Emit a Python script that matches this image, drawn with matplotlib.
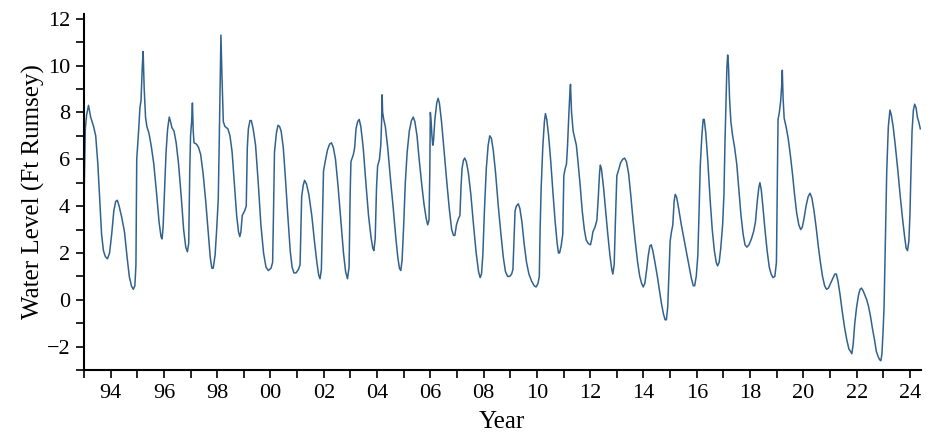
#!/usr/bin/env python3

import matplotlib
matplotlib.use('Agg')
import matplotlib.pyplot as plt
from matplotlib.ticker import MultipleLocator

# water level, one row per calendar year
years = [
    1993.00, 1993.05, 1993.10, 1993.17, 1993.25, 1993.36, 1993.44, 1993.52, 1993.59, 1993.66, 1993.73, 1993.80, 1993.88, 1993.96,
    1994.04, 1994.12, 1994.19, 1994.25, 1994.32, 1994.42, 1994.52, 1994.62, 1994.70, 1994.78, 1994.85, 1994.91, 1994.95, 1994.98,
    1995.05, 1995.10, 1995.14, 1995.19, 1995.22, 1995.26, 1995.31, 1995.36, 1995.44, 1995.52, 1995.62, 1995.72, 1995.82, 1995.89, 1995.93, 1995.97,
    1996.02, 1996.08, 1996.14, 1996.20, 1996.25, 1996.30, 1996.38, 1996.46, 1996.55, 1996.65, 1996.74, 1996.82, 1996.88, 1996.93, 1996.97,
    1997.00, 1997.04, 1997.07, 1997.10, 1997.13, 1997.22, 1997.30, 1997.38, 1997.47, 1997.57, 1997.66, 1997.74, 1997.80, 1997.85, 1997.92, 1997.98,
    1998.04, 1998.08, 1998.12, 1998.14, 1998.18, 1998.23, 1998.29, 1998.40, 1998.48, 1998.56, 1998.65, 1998.73, 1998.80, 1998.85, 1998.89, 1998.94,
    1999.03, 1999.09, 1999.13, 1999.17, 1999.23, 1999.28, 1999.35, 1999.44, 1999.54, 1999.64, 1999.74, 1999.83, 1999.92,
    2000.02, 2000.08, 2000.11, 2000.15, 2000.22, 2000.28, 2000.34, 2000.40, 2000.48, 2000.56, 2000.65, 2000.74, 2000.81, 2000.88, 2000.96,
    2001.05, 2001.11, 2001.14, 2001.17, 2001.23, 2001.28, 2001.35, 2001.44, 2001.55, 2001.65, 2001.74, 2001.81, 2001.86, 2001.91, 2001.95, 2001.99,
    2002.07, 2002.14, 2002.22, 2002.29, 2002.36, 2002.44, 2002.54, 2002.64, 2002.74, 2002.82, 2002.89, 2002.95, 2002.99,
    2003.02, 2003.11, 2003.16, 2003.21, 2003.27, 2003.33, 2003.39, 2003.48, 2003.58, 2003.68, 2003.77, 2003.84, 2003.88, 2003.93, 2003.98,
    2004.02, 2004.09, 2004.14, 2004.17, 2004.19, 2004.21, 2004.25, 2004.31, 2004.40, 2004.50, 2004.60, 2004.70, 2004.78, 2004.84, 2004.89, 2004.94,
    2005.00, 2005.06, 2005.13, 2005.21, 2005.29, 2005.36, 2005.42, 2005.50, 2005.58, 2005.67, 2005.76, 2005.84, 2005.90, 2005.95, 2005.98,
    2006.00, 2006.03, 2006.06, 2006.09, 2006.12, 2006.17, 2006.24, 2006.29, 2006.34, 2006.42, 2006.52, 2006.62, 2006.71, 2006.80, 2006.87, 2006.92, 2006.98,
    2007.05, 2007.11, 2007.15, 2007.19, 2007.24, 2007.29, 2007.35, 2007.43, 2007.52, 2007.62, 2007.72, 2007.81, 2007.87, 2007.92, 2007.97,
    2008.03, 2008.10, 2008.17, 2008.23, 2008.29, 2008.36, 2008.45, 2008.55, 2008.65, 2008.74, 2008.82, 2008.90, 2008.98,
    2009.05, 2009.10, 2009.14, 2009.18, 2009.23, 2009.30, 2009.36, 2009.44, 2009.52, 2009.61, 2009.70, 2009.80, 2009.90, 2009.97,
    2010.04, 2010.09, 2010.12, 2010.16, 2010.22, 2010.28, 2010.32, 2010.37, 2010.44, 2010.52, 2010.60, 2010.68, 2010.76, 2010.81, 2010.85, 2010.91, 2010.97,
    2011.01, 2011.06, 2011.11, 2011.15, 2011.19, 2011.24, 2011.26, 2011.30, 2011.36, 2011.42, 2011.48, 2011.55, 2011.63, 2011.70, 2011.78, 2011.85, 2011.93,
    2012.01, 2012.06, 2012.10, 2012.18, 2012.25, 2012.30, 2012.35, 2012.38, 2012.42, 2012.50, 2012.58, 2012.66, 2012.74, 2012.81, 2012.85, 2012.90, 2012.95,
    2013.00, 2013.08, 2013.14, 2013.22, 2013.29, 2013.36, 2013.44, 2013.52, 2013.60, 2013.69, 2013.78, 2013.86, 2013.93, 2013.99,
    2014.05, 2014.12, 2014.18, 2014.24, 2014.29, 2014.35, 2014.43, 2014.52, 2014.60, 2014.68, 2014.75, 2014.81, 2014.86, 2014.91, 2014.96,
    2015.00, 2015.05, 2015.10, 2015.15, 2015.19, 2015.24, 2015.32, 2015.42, 2015.52, 2015.62, 2015.72, 2015.80, 2015.87, 2015.92, 2015.98,
    2016.04, 2016.08, 2016.13, 2016.19, 2016.24, 2016.28, 2016.34, 2016.41, 2016.50, 2016.58, 2016.66, 2016.73, 2016.78, 2016.84, 2016.90, 2016.97,
    2017.02, 2017.06, 2017.10, 2017.13, 2017.16, 2017.19, 2017.23, 2017.28, 2017.34, 2017.42, 2017.50, 2017.58, 2017.66, 2017.74, 2017.81, 2017.88, 2017.96,
    2018.05, 2018.13, 2018.20, 2018.27, 2018.33, 2018.37, 2018.42, 2018.48, 2018.56, 2018.64, 2018.72, 2018.79, 2018.86, 2018.93, 2018.99,
    2019.03, 2019.05, 2019.10, 2019.15, 2019.19, 2019.21, 2019.24, 2019.28, 2019.35, 2019.43, 2019.51, 2019.59, 2019.67, 2019.75, 2019.83, 2019.90, 2019.96,
    2020.03, 2020.10, 2020.18, 2020.25, 2020.32, 2020.40, 2020.48, 2020.56, 2020.64, 2020.72, 2020.80, 2020.87, 2020.94,
    2021.02, 2021.10, 2021.18, 2021.24, 2021.30, 2021.38, 2021.46, 2021.55, 2021.63, 2021.71, 2021.77, 2021.82, 2021.87, 2021.93,
    2022.00, 2022.07, 2022.13, 2022.18, 2022.24, 2022.31, 2022.38, 2022.45, 2022.52, 2022.59, 2022.67, 2022.74, 2022.80, 2022.86, 2022.91, 2022.95, 2022.99,
    2023.03, 2023.08, 2023.13, 2023.19, 2023.25, 2023.30, 2023.37, 2023.45, 2023.54, 2023.63, 2023.72, 2023.80, 2023.86, 2023.91, 2023.96,
    2024.00, 2024.04, 2024.08, 2024.13, 2024.18, 2024.23, 2024.28, 2024.33, 2024.39,
]
level = [
    4.2, 7.3, 7.9, 8.3, 7.8, 7.4, 7.0, 5.8, 4.3, 2.8, 2.1, 1.85, 1.75, 2.0,
    2.8, 3.8, 4.2, 4.25, 4.0, 3.5, 2.9, 1.8, 1.0, 0.6, 0.45, 0.6, 1.5, 6.0,
    7.2, 8.2, 8.5, 10.0, 10.6, 9.0, 7.8, 7.4, 7.1, 6.6, 5.8, 4.6, 3.3, 2.7, 2.6, 3.1,
    4.6, 6.3, 7.3, 7.8, 7.6, 7.35, 7.2, 6.7, 5.8, 4.4, 3.0, 2.25, 2.05, 2.4, 5.5,
    7.0, 7.6, 8.4, 7.2, 6.7, 6.65, 6.5, 6.2, 5.4, 4.2, 2.9, 1.8, 1.35, 1.35, 1.9, 3.0,
    4.3, 7.0, 10.0, 11.3, 9.5, 7.6, 7.4, 7.3, 7.0, 6.3, 4.9, 3.6, 2.9, 2.7, 2.9, 3.6,
    3.8, 4.0, 6.5, 7.3, 7.65, 7.65, 7.3, 6.6, 5.0, 3.2, 2.0, 1.4, 1.25,
    1.35, 1.6, 3.5, 6.3, 7.1, 7.45, 7.4, 7.2, 6.5, 5.2, 3.6, 2.1, 1.4, 1.15, 1.15,
    1.3, 1.5, 3.0, 4.4, 4.9, 5.1, 4.95, 4.5, 3.6, 2.5, 1.6, 1.05, 0.9, 1.3, 3.5, 5.5,
    6.0, 6.4, 6.65, 6.7, 6.5, 6.0, 4.8, 3.4, 2.0, 1.2, 0.9, 1.4, 4.5,
    5.9, 6.2, 6.5, 7.3, 7.6, 7.7, 7.4, 6.5, 5.0, 3.6, 2.7, 2.2, 2.1, 2.6, 4.8,
    5.7, 6.0, 6.6, 7.6, 8.75, 8.0, 7.7, 7.4, 6.5, 5.2, 4.0, 2.7, 1.8, 1.35, 1.25, 1.7,
    3.2, 5.0, 6.3, 7.2, 7.65, 7.8, 7.6, 7.0, 6.0, 5.0, 4.1, 3.5, 3.2, 3.4, 5.5,
    8.0, 7.6, 7.0, 6.6, 6.8, 7.7, 8.4, 8.6, 8.4, 7.6, 6.3, 5.0, 3.9, 3.0, 2.75, 2.75, 3.2,
    3.45, 3.6, 4.8, 5.6, 5.95, 6.05, 5.9, 5.4, 4.5, 3.2, 2.0, 1.2, 0.95, 1.1, 1.9,
    3.8, 5.6, 6.6, 7.0, 6.9, 6.4, 5.4, 4.0, 2.8, 1.8, 1.2, 1.0, 1.0,
    1.1, 1.3, 2.6, 3.8, 4.0, 4.1, 3.9, 3.3, 2.4, 1.6, 1.1, 0.8, 0.6, 0.55,
    0.7, 1.0, 3.0, 4.8, 6.5, 7.6, 7.95, 7.7, 7.0, 5.9, 4.6, 3.4, 2.4, 2.0, 2.0, 2.3, 2.8,
    5.3, 5.6, 5.8, 6.6, 7.7, 8.9, 9.2, 8.0, 7.2, 6.9, 6.6, 5.8, 4.8, 3.8, 3.0, 2.55, 2.4,
    2.35, 2.6, 2.9, 3.1, 3.4, 4.3, 5.4, 5.75, 5.6, 4.8, 3.8, 2.8, 1.9, 1.3, 1.1, 1.5, 3.5,
    5.3, 5.6, 5.85, 6.0, 6.05, 5.9, 5.4, 4.5, 3.5, 2.5, 1.6, 1.0, 0.7, 0.55,
    0.7, 1.3, 1.9, 2.3, 2.35, 2.1, 1.6, 1.0, 0.4, -0.2, -0.6, -0.85, -0.85, -0.3, 1.2,
    2.5, 2.9, 3.2, 4.2, 4.5, 4.4, 3.9, 3.2, 2.6, 2.0, 1.4, 0.9, 0.6, 0.6, 1.0,
    1.9, 3.5, 5.7, 7.0, 7.7, 7.7, 7.1, 6.0, 4.3, 3.0, 2.1, 1.6, 1.45, 1.6, 2.2, 3.2,
    4.5, 6.8, 8.6, 9.9, 10.45, 10.0, 8.6, 7.6, 7.05, 6.5, 5.8, 4.7, 3.6, 2.8, 2.35, 2.25, 2.35,
    2.6, 2.9, 3.3, 4.2, 4.8, 5.0, 4.7, 4.0, 3.0, 2.1, 1.4, 1.1, 0.95, 1.0, 1.6,
    5.5, 7.7, 8.0, 8.5, 9.2, 9.8, 8.6, 7.75, 7.4, 6.9, 6.2, 5.4, 4.5, 3.7, 3.2, 3.0, 3.1,
    3.5, 4.0, 4.4, 4.55, 4.35, 3.8, 3.1, 2.3, 1.6, 1.0, 0.6, 0.45, 0.5,
    0.7, 0.9, 1.1, 1.1, 0.8, 0.2, -0.5, -1.2, -1.7, -2.1, -2.2, -2.3, -1.9, -1.0,
    -0.3, 0.2, 0.45, 0.5, 0.4, 0.2, 0.0, -0.3, -0.7, -1.2, -1.7, -2.2, -2.4, -2.55, -2.6, -2.3, -1.4,
    -0.3, 2.5, 5.5, 7.4, 8.1, 7.9, 7.4, 6.6, 5.6, 4.5, 3.5, 2.7, 2.2, 2.1, 2.5,
    3.6, 5.5, 7.2, 8.1, 8.35, 8.2, 7.8, 7.6, 7.3,
]
assert len(years) == len(level)

xtick_years = [1994, 1996, 1998, 2000, 2002, 2004, 2006, 2008, 2010, 2012, 2014, 2016, 2018, 2020, 2022, 2024]
xtick_labels = ['94', '96', '98', '00', '02', '04', '06', '08', '10', '12', '14', '16', '18', '20', '22', '24']

plt.rcParams['font.family'] = ['Liberation Serif', 'DejaVu Serif']

fig = plt.figure(figsize=(9.28, 4.37), dpi=100)
ax = fig.add_axes([0.0905, 0.153, 0.9015, 0.815])

ax.plot(years, level, color='#31628f', linewidth=1.1, solid_joinstyle='round')

ax.set_xlim(1993.0, 2024.4)
ax.set_ylim(-3.0, 12.2)

ax.set_xticks(xtick_years)
ax.set_xticklabels(xtick_labels)
ax.xaxis.set_minor_locator(MultipleLocator(1))
ax.yaxis.set_major_locator(MultipleLocator(2))
ax.yaxis.set_minor_locator(MultipleLocator(1))

ax.tick_params(which='both', direction='out', length=6, width=1.2, labelsize=16, pad=4)

for side in ['top', 'right']:
    ax.spines[side].set_visible(False)
for side in ['left', 'bottom']:
    ax.spines[side].set_linewidth(1.5)

ax.set_xlabel('Year', fontsize=18, labelpad=6)
ax.set_ylabel('Water Level (Ft Rumsey)', fontsize=18, labelpad=1)

fig.savefig('out.png', dpi=100)
